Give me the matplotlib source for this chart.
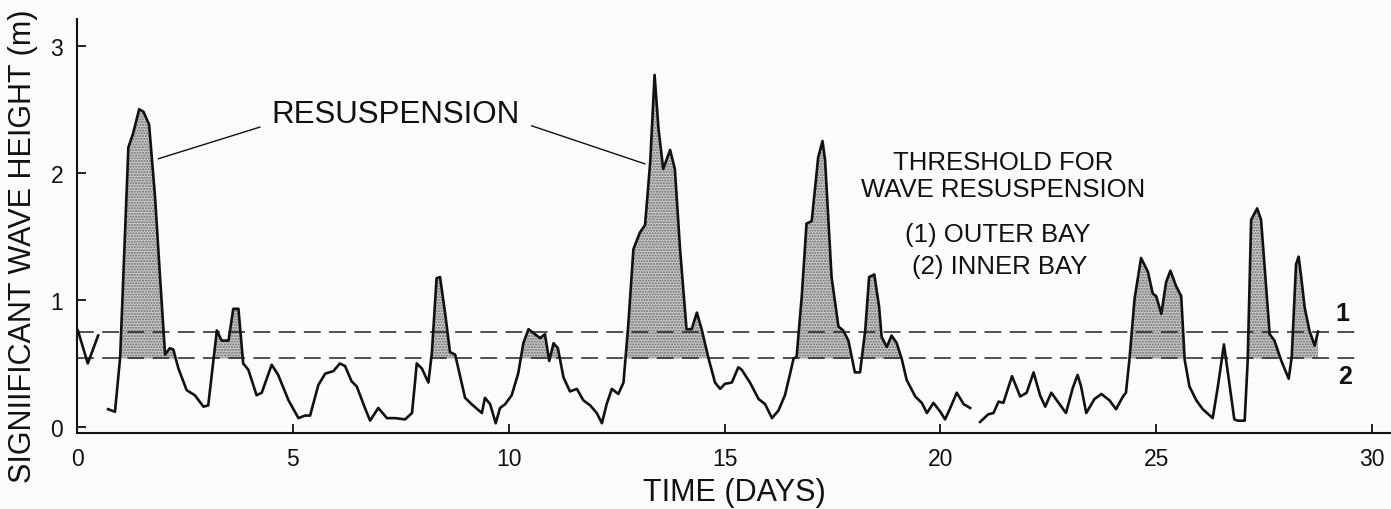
import numpy as np
import matplotlib
matplotlib.use('Agg')
import matplotlib.pyplot as plt

plt.rcParams['font.family'] = ['Liberation Sans', 'DejaVu Sans']

# ---- data ----
# short opening piece of the record (not shaded)
day_a = [0.02, 0.25, 0.49]
hs_a = [0.76, 0.50, 0.72]

# main record, days ~0.7 - 20.7
day_b = [0.72, 0.88, 1.00, 1.19, 1.30, 1.44, 1.54, 1.67, 1.81, 1.92, 2.04, 2.15, 2.23,
         2.35, 2.54, 2.73, 2.93, 3.04, 3.24, 3.35, 3.51, 3.62, 3.74, 3.85, 3.97, 4.16,
         4.28, 4.51, 4.66, 4.90, 5.13, 5.28, 5.40, 5.59, 5.75, 5.94, 6.09, 6.21, 6.36,
         6.48, 6.67, 6.79, 6.98, 7.18, 7.37, 7.60, 7.76, 7.83, 7.87, 7.99, 8.14, 8.22,
         8.33, 8.41, 8.53, 8.64, 8.76, 8.99, 9.14, 9.38, 9.45, 9.57, 9.70, 9.80, 9.92,
         10.07, 10.22, 10.34, 10.46, 10.61, 10.73, 10.84, 10.94, 11.04, 11.14, 11.27,
         11.42, 11.58, 11.73, 11.89, 12.04, 12.16, 12.27, 12.39, 12.54, 12.66, 12.77,
         12.89, 13.04, 13.16, 13.28, 13.38, 13.47, 13.58, 13.74, 13.85, 13.97, 14.12,
         14.24, 14.36, 14.47, 14.63, 14.78, 14.90, 15.01, 15.17, 15.32, 15.40, 15.59,
         15.79, 15.94, 16.10, 16.25, 16.40, 16.52, 16.60, 16.67, 16.79, 16.90, 17.02,
         17.17, 17.27, 17.33, 17.48, 17.64, 17.75, 17.87, 18.02, 18.14, 18.26, 18.35,
         18.47, 18.58, 18.64, 18.76, 18.87, 18.99, 19.11, 19.22, 19.42, 19.57, 19.69,
         19.84, 20.00, 20.11, 20.23, 20.38, 20.54, 20.69]
hs_b = [0.14, 0.12, 0.55, 2.20, 2.31, 2.50, 2.48, 2.38, 1.80, 1.20, 0.57, 0.62, 0.61,
        0.46, 0.29, 0.25, 0.16, 0.17, 0.76, 0.68, 0.68, 0.93, 0.93, 0.50, 0.45, 0.25,
        0.27, 0.49, 0.41, 0.21, 0.07, 0.09, 0.09, 0.33, 0.42, 0.44, 0.50, 0.48, 0.36,
        0.32, 0.15, 0.05, 0.15, 0.07, 0.07, 0.06, 0.11, 0.35, 0.50, 0.46, 0.35, 0.58,
        1.17, 1.18, 0.89, 0.59, 0.57, 0.23, 0.18, 0.11, 0.23, 0.18, 0.03, 0.15, 0.18,
        0.25, 0.42, 0.66, 0.77, 0.73, 0.70, 0.73, 0.52, 0.66, 0.62, 0.39,
        0.28, 0.30, 0.21, 0.17, 0.11, 0.03, 0.18, 0.30, 0.26, 0.35, 0.80,
        1.40, 1.53, 1.59, 2.09, 2.77, 2.35, 2.03, 2.18, 2.03, 1.40, 0.77,
        0.77, 0.90, 0.77, 0.54, 0.35, 0.30, 0.34, 0.35, 0.47, 0.45, 0.35,
        0.22, 0.18, 0.07, 0.13, 0.25, 0.42, 0.54, 0.55, 1.03, 1.60, 1.62,
        2.12, 2.25, 2.10, 1.18, 0.79, 0.76, 0.68, 0.43, 0.43, 0.76, 1.18,
        1.20, 0.95, 0.71, 0.63, 0.72, 0.66, 0.53, 0.37, 0.24, 0.19, 0.11,
        0.19, 0.12, 0.06, 0.15, 0.27, 0.18, 0.15]

# final piece, days ~20.9 - 28.8
day_c = [20.92, 21.11, 21.23, 21.35, 21.46, 21.66, 21.85, 22.00, 22.16, 22.31, 22.43,
         22.57, 22.72, 22.91, 23.07, 23.18, 23.26, 23.38, 23.57, 23.73, 23.92, 24.07,
         24.23, 24.30, 24.38, 24.50, 24.65, 24.81, 24.92, 25.00, 25.12, 25.23, 25.33,
         25.46, 25.58, 25.66, 25.77, 25.93, 26.08, 26.31, 26.43, 26.57, 26.66, 26.81,
         26.89, 27.05, 27.12, 27.20, 27.34, 27.43, 27.63, 27.74, 27.90, 28.07, 28.14,
         28.24, 28.30, 28.36, 28.44, 28.55, 28.67, 28.75]
hs_c = [0.04, 0.10, 0.11, 0.20, 0.19, 0.40, 0.24, 0.27, 0.43, 0.25, 0.16,
        0.27, 0.20, 0.11, 0.31, 0.41, 0.32, 0.11, 0.22, 0.26, 0.21, 0.14,
        0.24, 0.27, 0.53, 1.01, 1.33, 1.22, 1.05, 1.03, 0.89, 1.14, 1.23,
        1.11, 1.03, 0.53, 0.32, 0.21, 0.14, 0.07, 0.32, 0.65, 0.43, 0.06,
        0.05, 0.05, 0.52, 1.63, 1.72, 1.63, 0.73, 0.68, 0.52, 0.38, 0.55,
        1.28, 1.34, 1.18, 0.94, 0.76, 0.64, 0.75]

threshold_outer = 0.75   # (1) outer bay
threshold_inner = 0.54   # (2) inner bay
threshold_days = [0.0, 29.7]

x_ticks = [0, 5, 10, 15, 20, 25, 30]
y_ticks = [0, 1, 2, 3]

# ---- figure ----
W, H = 1391, 510
fig = plt.figure(figsize=(W / 100, H / 100), dpi=100, facecolor='#fbfbf9')
ax = fig.add_axes([77 / W, 76 / H, 1314 / W, 414 / H])
ax.set_facecolor('#fbfbf9')
ax.set_xlim(0, 30.44)
ax.set_ylim(-0.047, 3.21)

ink = '#111111'
fill_kw = dict(facecolor='#c8c8c8', edgecolor='#6e6e6e', hatch='......', linewidth=0)

for d, h in [(day_b, hs_b), (day_c, hs_c)]:
    h = np.asarray(h)
    ax.fill_between(d, h, threshold_inner, where=h > threshold_inner,
                    interpolate=True, **fill_kw)

for d, h in [(day_a, hs_a), (day_b, hs_b), (day_c, hs_c)]:
    ax.plot(d, h, color=ink, lw=1.9, solid_joinstyle='round', zorder=3)

for t in (threshold_outer, threshold_inner):
    ax.plot(threshold_days, [t, t], color='#222222', lw=1.1,
            linestyle=(0, (11, 5.5)), zorder=2)

ax.text(29.31, 0.90, '1', fontsize=18, fontweight='bold', ha='center', va='center', color=ink)
ax.text(29.38, 0.40, '2', fontsize=18, fontweight='bold', ha='center', va='center', color=ink)

# annotations
ax.text(7.37, 2.46, 'RESUSPENSION', fontsize=22.5, ha='center', va='center', color=ink)
ax.annotate('', xy=(1.88, 2.11), xytext=(4.24, 2.36),
            arrowprops=dict(arrowstyle='-', lw=1.0, color=ink, shrinkA=0, shrinkB=0))
ax.annotate('', xy=(13.16, 2.07), xytext=(10.53, 2.37),
            arrowprops=dict(arrowstyle='-', lw=1.0, color=ink, shrinkA=0, shrinkB=0))

ax.text(21.46, 2.087, 'THRESHOLD FOR', fontsize=18.5, ha='center', va='center', color=ink)
ax.text(21.46, 1.870, 'WAVE RESUSPENSION', fontsize=18.5, ha='center', va='center', color=ink)
ax.text(21.34, 1.52, '(1) OUTER BAY', fontsize=18.5, ha='center', va='center', color=ink)
ax.text(21.37, 1.268, '(2) INNER BAY', fontsize=18.5, ha='center', va='center', color=ink)

# axes styling
for s in ('top', 'right'):
    ax.spines[s].set_visible(False)
for s in ('left', 'bottom'):
    ax.spines[s].set_linewidth(1.5)
    ax.spines[s].set_color(ink)
ax.set_xticks(x_ticks)
ax.set_yticks(y_ticks)
ax.tick_params(direction='in', length=6.5, width=1.3, colors=ink, labelsize=16.5)
ax.tick_params(axis='x', pad=10)
ax.tick_params(axis='y', pad=10)

ax.set_xlabel('TIME (DAYS)', fontsize=22, color=ink)
ax.xaxis.set_label_coords(0.5, -0.106)
ax.set_ylabel('SIGNIIFICANT WAVE HEIGHT (m)', fontsize=22, color=ink)
ax.yaxis.set_label_coords(-0.0297, 0.454)

fig.savefig('out.png', dpi=100, facecolor=fig.get_facecolor())
